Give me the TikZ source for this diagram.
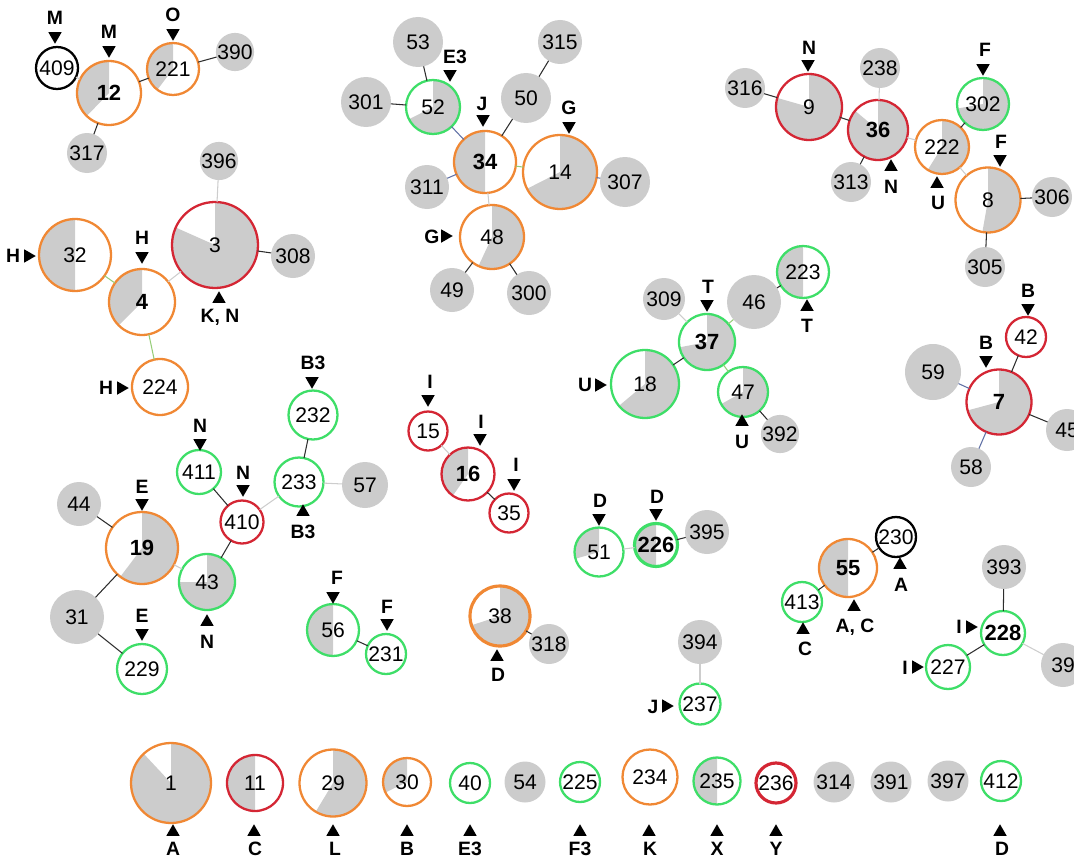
\documentclass[tikz,border=0pt]{standalone}
\usepackage{fontspec}
\setmainfont{Liberation Sans}
\usepackage{tikz}
\usetikzlibrary{shapes.geometric}
\definecolor{hapGray}{RGB}{204,204,204}
\definecolor{hapOrange}{RGB}{240,136,52}
\definecolor{hapRed}{RGB}{212,38,52}
\definecolor{hapGreen}{RGB}{62,222,104}
\definecolor{edgeDark}{RGB}{45,45,45}
\definecolor{edgeLight}{RGB}{205,205,205}
\definecolor{edgeBlue}{RGB}{95,112,165}
\definecolor{edgeGreen}{RGB}{150,205,120}
% gray wedge + ring: [style]{name}{x,y}{radius}{start}{end}{text}
\newcommand{\hapnode}[7][]{%
  \fill[hapGray] (#3) -- ++(#5:#4*0.2mm) arc[start angle=#5, end angle=#6, radius=#4*0.2mm] -- cycle;
  \node[rad=#4, #1] (#2) at (#3) {#7};}

\begin{document}
\begin{tikzpicture}[x=0.2mm, y=0.2mm,
  hap/.style={circle, draw=#1, line width=1.3pt, inner sep=0pt, outer sep=0pt, font=\fontsize{12}{14}\selectfont},
  sole/.style={circle, fill=hapGray, inner sep=0pt, outer sep=0pt, font=\fontsize{12}{14}\selectfont},
  hub/.style={font=\bfseries\fontsize{12.5}{14}\selectfont},
  heavy/.style={line width=1.8pt},
  rad/.style={minimum size=#1*0.4mm},
  link/.style={line width=0.6pt, edgeDark},
  lite/.style={line width=0.6pt, edgeLight},
  bluelink/.style={line width=0.6pt, edgeBlue},
  greenlink/.style={line width=0.6pt, edgeGreen},
  tag/.style={font=\bfseries\fontsize{11}{12}\selectfont, inner sep=0pt},
  tri/.style={regular polygon, regular polygon sides=3, fill=black, inner sep=0pt, minimum size=3.1mm},
  tridown/.style={tri, shape border rotate=180},
  triup/.style={tri},
  triright/.style={tri, shape border rotate=-90}]
\useasboundingbox (0,0) rectangle (1074,-860);

% cluster 12
\node[hap=black, rad=21] (n409) at (57,-68) {409};
\hapnode[hap=hapOrange, hub]{n12}{109,-93}{32}{90}{226}{12}
\hapnode[hap=hapOrange]{n221}{173,-69}{26}{90}{233}{221}
\node[sole, rad=18] (n390) at (235,-52) {390};
\node[sole, rad=20] (n317) at (87,-153) {317};
\draw[lite] (n409) -- (n12);
\draw[link] (n12) -- (n221);
\draw[link] (n221) -- (n390);
\draw[link] (n12) -- (n317);
\node[tridown] (m409) at (55,-36) {};
\node[tag] (t409) at (55,-18) {M};
\node[tridown] (m12) at (109,-50) {};
\node[tag] (t12) at (109,-32) {M};
\node[tridown] (m221) at (173,-33) {};
\node[tag] (t221) at (173,-15) {O};

% cluster 3
\node[sole, rad=19] (n396) at (219,-161) {396};
\hapnode[hap=hapRed]{n3}{215,-245}{43}{156}{450}{3}
\node[sole, rad=22] (n308) at (293,-256) {308};
\hapnode[hap=hapOrange]{n32}{75,-255}{36}{90}{270}{32}
\hapnode[hap=hapOrange, hub]{n4}{142,-302}{33}{90}{225}{4}
\node[hap=hapOrange, rad=28] (n224) at (160,-387) {224};
\draw[lite] (n3) -- (n396);
\draw[link] (n3) -- (n308);
\draw[lite] (n3) -- (n4);
\draw[greenlink] (n4) -- (n32);
\draw[greenlink] (n4) -- (n224);
\node[triright] (m32) at (28,-256) {};
\node[tag] (t32) at (13,-256) {H};
\node[tridown] (m4) at (142,-256) {};
\node[tag] (t4) at (142,-238) {H};
\node[triup] (m3) at (219,-299) {};
\node[tag] (t3) at (220,-317) {K, N};
\node[triright] (m224) at (121,-388) {};
\node[tag] (t224) at (106,-388) {H};

% cluster 34
\node[sole, rad=25] (n53) at (418,-42) {53};
\node[sole, rad=25] (n301) at (366,-102) {301};
\hapnode[hap=hapGreen]{n52}{433,-107}{27}{-153}{90}{52}
\hapnode[hap=hapOrange, hub]{n34}{485,-162}{31}{90}{270}{34}
\node[sole, rad=25] (n50) at (526,-98) {50};
\node[sole, rad=22] (n315) at (560,-42) {315};
\hapnode[hap=hapOrange]{n14}{560,-172}{37}{-153}{90}{14}
\node[sole, rad=25] (n307) at (625,-182) {307};
\node[sole, rad=22] (n311) at (427,-187) {311};
\hapnode[hap=hapOrange]{n48}{492,-237}{32}{-115}{90}{48}
\node[sole, rad=22] (n49) at (452,-290) {49};
\node[sole, rad=22] (n300) at (529,-293) {300};
\draw[link] (n53) -- (n52);
\draw[link] (n301) -- (n52);
\draw[bluelink] (n52) -- (n34);
\draw[link] (n34) -- (n50);
\draw[link] (n50) -- (n315);
\draw[greenlink] (n34) -- (n14);
\draw[bluelink] (n14) -- (n307);
\draw[bluelink] (n34) -- (n311);
\draw[lite] (n34) -- (n48);
\draw[link] (n48) -- (n49);
\draw[link] (n48) -- (n300);
\node[tridown] (m52) at (450,-74) {};
\node[tag] (t52) at (455,-57) {E3};
\node[tridown] (m34) at (483,-119) {};
\node[tag] (t34) at (482,-104) {J};
\node[tridown] (m14) at (569,-126) {};
\node[tag] (t14) at (569,-108) {G};
\node[triright] (m48) at (445,-236) {};
\node[tag] (t48) at (432,-237) {G};

% cluster 36
\node[sole, rad=20] (n316) at (745,-88) {316};
\hapnode[hap=hapRed]{n9}{809,-107}{33}{164}{450}{9}
\node[sole, rad=20] (n238) at (880,-68) {238};
\hapnode[hap=hapRed, hub]{n36}{878,-130}{30}{140}{450}{36}
\node[sole, rad=20] (n313) at (851,-182) {313};
\hapnode[hap=hapOrange]{n222}{942,-147}{27}{-122}{90}{222}
\hapnode[hap=hapGreen]{n302}{983,-104}{26}{-170}{90}{302}
\hapnode[hap=hapOrange]{n8}{988,-200}{32.5}{-100}{90}{8}
\node[sole, rad=20] (n306) at (1052,-197) {306};
\node[sole, rad=20] (n305) at (985,-267) {305};
\draw[link] (n316) -- (n9);
\draw[link] (n9) -- (n36);
\draw[lite] (n36) -- (n238);
\draw[link] (n36) -- (n313);
\draw[lite] (n36) -- (n222);
\draw[link] (n222) -- (n302);
\draw[lite] (n222) -- (n8);
\draw[link] (n8) -- (n306);
\draw[link] (n8) -- (n305);
\node[tridown] (m9) at (808,-64) {};
\node[tag] (t9) at (809,-48) {N};
\node[triup] (m36) at (891,-167) {};
\node[tag] (t36) at (891,-187) {N};
\node[triup] (m222) at (937,-184) {};
\node[tag] (t222) at (938,-203) {U};
\node[tridown] (m302) at (983,-68) {};
\node[tag] (t302) at (985,-50) {F};
\node[tridown] (m8) at (1000,-159) {};
\node[tag] (t8) at (1001,-142) {F};

% cluster 37
\node[sole, rad=21] (n309) at (664,-299) {309};
\hapnode[hap=hapGreen, hub]{n37}{707,-342}{28}{-169}{90}{37}
\node[sole, rad=27] (n46) at (754,-302) {46};
\hapnode[hap=hapGreen]{n223}{803,-272}{26}{90}{270}{223}
\hapnode[hap=hapGreen]{n18}{645,-384}{34}{-140}{90}{18}
\hapnode[hap=hapGreen]{n47}{743,-392}{25}{-151}{90}{47}
\node[sole, rad=19] (n392) at (780,-434) {392};
\draw[lite] (n309) -- (n37);
\draw[greenlink] (n37) -- (n46);
\draw[link] (n46) -- (n223);
\draw[link] (n37) -- (n18);
\draw[greenlink] (n37) -- (n47);
\draw[link] (n47) -- (n392);
\node[tridown] (m37) at (707,-304) {};
\node[tag] (t37) at (708,-287) {T};
\node[triup] (m223) at (807,-307) {};
\node[tag] (t223) at (807,-326) {T};
\node[triright] (m18) at (599,-385) {};
\node[tag] (t18) at (585,-385) {U};
\node[triup] (m47) at (742,-422) {};
\node[tag] (t47) at (742,-442) {U};

% cluster 7
\node[sole, rad=28] (n59) at (933,-372) {59};
\hapnode[hap=hapRed, hub]{n7}{999,-402}{32.5}{-165}{90}{7}
\node[hap=hapRed, rad=20] (n42) at (1026,-337) {42};
\node[sole, rad=21] (n45) at (1067,-430) {45};
\node[sole, rad=20] (n58) at (971,-467) {58};
\draw[bluelink] (n59) -- (n7);
\draw[link] (n7) -- (n42);
\draw[link] (n7) -- (n45);
\draw[bluelink] (n7) -- (n58);
\node[tridown] (m7) at (986,-360) {};
\node[tag] (t7) at (986,-343) {B};
\node[tridown] (m42) at (1028,-308) {};
\node[tag] (t42) at (1028,-291) {B};

% cluster 19
\node[sole, rad=22] (n44) at (79,-504) {44};
\hapnode[hap=hapOrange, hub]{n19}{142,-548}{36}{-127}{90}{19}
\node[sole, rad=27] (n31) at (77,-617) {31};
\node[hap=hapGreen, rad=25] (n229) at (142,-669) {229};
\hapnode[hap=hapGreen]{n43}{207,-582}{28}{180}{450}{43}
\node[hap=hapRed, rad=21.5] (n410) at (242,-522) {410};
\node[hap=hapGreen, rad=22] (n411) at (199,-472) {411};
\node[hap=hapGreen, rad=24.5] (n233) at (299,-482) {233};
\node[hap=hapGreen, rad=24.5] (n232) at (313,-415) {232};
\node[sole, rad=23] (n57) at (365,-485) {57};
\draw[link] (n44) -- (n19);
\draw[link] (n19) -- (n31);
\draw[link] (n31) -- (n229);
\draw[lite] (n19) -- (n43);
\draw[link] (n43) -- (n410);
\draw[link] (n410) -- (n411);
\draw[lite] (n410) -- (n233);
\draw[link] (n233) -- (n232);
\draw[lite] (n233) -- (n57);
\node[tridown] (m19) at (142,-503) {};
\node[tag] (t19) at (142,-487) {E};
\node[tridown] (m229) at (142,-633) {};
\node[tag] (t229) at (142,-616) {E};
\node[triup] (m43) at (207,-622) {};
\node[tag] (t43) at (207,-642) {N};
\node[tridown] (m411) at (200,-443) {};
\node[tag] (t411) at (200,-426) {N};
\node[tridown] (m410) at (243,-489) {};
\node[tag] (t410) at (243,-473) {N};
\node[tridown] (m232) at (312,-381) {};
\node[tag] (t232) at (313,-363) {B3};
\node[triup] (m233) at (303,-512) {};
\node[tag] (t233) at (303,-532) {B3};

% cluster 56
\hapnode[hap=hapGreen]{n56}{333,-630}{26}{90}{270}{56}
\node[hap=hapGreen, rad=20] (n231) at (386,-654) {231};
\draw[link] (n56) -- (n231);
\node[tridown] (m56) at (333,-596) {};
\node[tag] (t56) at (337,-578) {F};
\node[tridown] (m231) at (387,-623) {};
\node[tag] (t231) at (387,-607) {F};

% cluster 16
\node[hap=hapRed, rad=19.5] (n15) at (428,-431) {15};
\hapnode[hap=hapRed, hub]{n16}{468,-474}{26.5}{90}{235}{16}
\node[hap=hapRed, rad=19.5] (n35) at (509,-513) {35};
\draw[lite] (n15) -- (n16);
\draw[link] (n16) -- (n35);
\node[tridown] (m15) at (428,-399) {};
\node[tag] (t15) at (430,-382) {I};
\node[tridown] (m16) at (480,-438) {};
\node[tag] (t16) at (481,-422) {I};
\node[tridown] (m35) at (514,-483) {};
\node[tag] (t35) at (516,-465) {I};

% cluster 38
\hapnode[hap=hapOrange, heavy]{n38}{500,-616}{30}{-162}{90}{38}
\node[sole, rad=20] (n318) at (549,-644) {318};
\draw[link] (n38) -- (n318);
\node[triup] (m38) at (497,-657) {};
\node[tag] (t38) at (498,-675) {D};

% cluster 226
\hapnode[hap=hapGreen]{n51}{599,-552}{24.5}{90}{196}{51}
\hapnode[hap=hapGreen, heavy, hub]{n226}{656,-545}{21.5}{90}{270}{226}
\node[sole, rad=22] (n395) at (707,-532) {395};
\draw[lite] (n51) -- (n226);
\draw[link] (n226) -- (n395);
\node[tridown] (m51) at (599,-518) {};
\node[tag] (t51) at (600,-501) {D};
\node[tridown] (m226) at (656,-513) {};
\node[tag] (t226) at (657,-497) {D};

% cluster 237
\node[sole, rad=22] (n394) at (700,-642) {394};
\node[hap=hapGreen, rad=20.5] (n237) at (700,-704) {237};
\draw[lite] (n394) -- (n237);
\node[triright] (m237) at (666,-706) {};
\node[tag] (t237) at (653,-707) {J};

% cluster 55
\node[hap=black, rad=20] (n230) at (896,-537) {230};
\hapnode[hap=hapOrange, hub]{n55}{848,-568}{29}{90}{270}{55}
\node[hap=hapGreen, rad=20] (n413) at (802,-602) {413};
\draw[link] (n230) -- (n55);
\draw[link] (n55) -- (n413);
\node[triup] (m230) at (900,-565) {};
\node[tag] (t230) at (901,-585) {A};
\node[triup] (m55) at (854,-607) {};
\node[tag] (t55) at (855,-627) {A, C};
\node[triup] (m413) at (803,-630) {};
\node[tag] (t413) at (805,-649) {C};

% cluster 228
\node[sole, rad=22] (n393) at (1004,-567) {393};
\node[hap=hapGreen, rad=22, hub] (n228) at (1003,-633) {228};
\node[hap=hapGreen, rad=22] (n227) at (948,-667) {227};
\node[sole, rad=22] (n39) at (1063,-665) {39};
\draw[link] (n393) -- (n228);
\draw[link] (n228) -- (n227);
\draw[lite] (n228) -- (n39);
\node[triright] (m228) at (970,-627) {};
\node[tag] (t228) at (959,-627) {I};
\node[triright] (m227) at (916,-667) {};
\node[tag] (t227) at (905,-668) {I};

% singletons
\hapnode[hap=hapOrange]{n1}{171,-783}{40}{133}{450}{1}
\hapnode[hap=hapRed]{n11}{255,-783}{28}{90}{270}{11}
\hapnode[hap=hapOrange]{n29}{333,-783}{33.5}{-121}{90}{29}
\hapnode[hap=hapOrange]{n30}{407,-782}{24}{90}{206}{30}
\node[hap=hapGreen, rad=20] (n40) at (470,-783) {40};
\node[sole, rad=20.5] (n54) at (525,-782) {54};
\node[hap=hapGreen, rad=20] (n225) at (580,-782) {225};
\node[hap=hapOrange, rad=27.5] (n234) at (650,-777) {234};
\hapnode[hap=hapGreen]{n235}{717,-781}{23.5}{90}{270}{235}
\node[hap=hapRed, heavy, rad=20] (n236) at (776,-783) {236};
\node[sole, rad=20.5] (n314) at (834,-782) {314};
\node[sole, rad=20.5] (n391) at (891,-782) {391};
\node[sole, rad=20.5] (n397) at (948,-781) {397};
\node[hap=hapGreen, rad=20] (n412) at (1001,-781) {412};
\node[triup] (m1) at (173,-832) {};
\node[tag] (t1) at (173,-849) {A};
\node[triup] (m11) at (254,-832) {};
\node[tag] (t11) at (255,-849) {C};
\node[triup] (m29) at (333,-832) {};
\node[tag] (t29) at (335,-849) {L};
\node[triup] (m30) at (407,-832) {};
\node[tag] (t30) at (407,-849) {B};
\node[triup] (m40) at (470,-832) {};
\node[tag] (t40) at (470,-849) {E3};
\node[triup] (m225) at (580,-832) {};
\node[tag] (t225) at (580,-849) {F3};
\node[triup] (m234) at (649,-832) {};
\node[tag] (t234) at (650,-849) {K};
\node[triup] (m235) at (717,-832) {};
\node[tag] (t235) at (717,-849) {X};
\node[triup] (m236) at (776,-832) {};
\node[tag] (t236) at (776,-849) {Y};
\node[triup] (m412) at (1000,-832) {};
\node[tag] (t412) at (1002,-849) {D};
\end{tikzpicture}
\end{document}
